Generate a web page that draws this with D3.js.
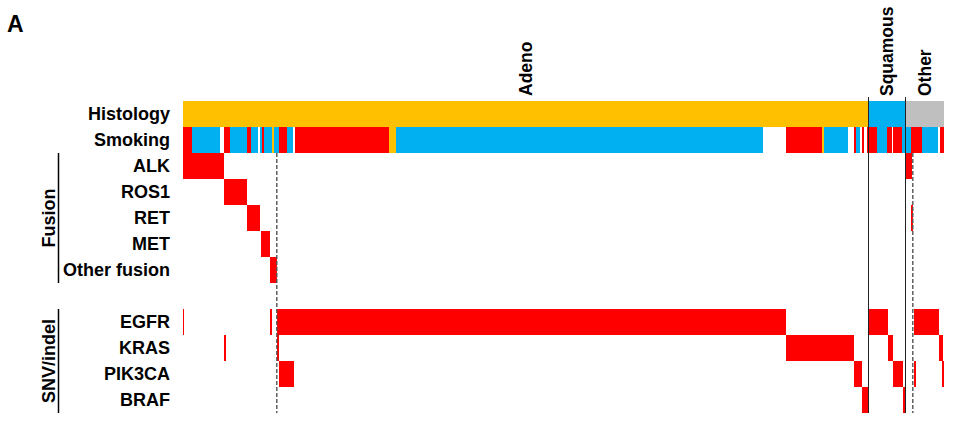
<!DOCTYPE html>
<html><head><meta charset="utf-8">
<script src="https://cdn.jsdelivr.net/npm/d3@7"></script>
<style>body{margin:0;background:#fff}svg{display:block}text{font-family:"Liberation Sans",Arial,sans-serif;font-weight:bold;fill:#000}</style>
</head><body><svg id="c" width="960" height="424"></svg>
<script>
// sample order axis: 0..380.5 patients (sorted)
const totalSamples = 380.5;
const rows = ["Histology","Smoking","ALK","ROS1","RET","MET","Other fusion","","EGFR","KRAS","PIK3CA","BRAF"];
const histology = [
  {name:"Adeno", start:0, end:342.5, type:"adeno"},
  {name:"Squamous", start:342.5, end:361, type:"squamous"},
  {name:"Other", start:361, end:380.5, type:"other"}
];
// smoking: [start, end, status]
const smoking = [
  [0,4.4,"smoker"],[4.4,18.5,"never"],[20.7,23.5,"smoker"],[23.5,31.9,"never"],[31.9,34,"smoker"],
  [34,37.7,"never"],[38.5,39.4,"never"],[39.4,40.5,"smoker"],[40.5,44.4,"never"],[44.4,45.4,"unknown"],
  [45.4,48.2,"never"],[48.2,52.2,"smoker"],[52.2,54.9,"never"],[56,103.2,"smoker"],[103.2,106.4,"unknown"],
  [106.4,290.2,"never"],[301.5,319.4,"smoker"],[319.4,320.7,"unknown"],[320.7,332.7,"never"],
  [335.5,336.4,"smoker"],[336.4,338.5,"never"],[339.5,340.7,"smoker"],[341.9,346.9,"smoker"],
  [346.9,352.2,"never"],[352.2,354.4,"smoker"],[355.2,359.4,"smoker"],[359.4,364,"never"],
  [364,369.4,"smoker"],[369.4,377.7,"never"],[378.5,380.5,"smoker"]
];
const ALK = [[0,20.7],[361.3,364.4]];
const ROS1 = [[20.7,31.9]];
const RET = [[31.9,38.5],[363.9,364.9]];
const MET = [[39.2,43.5]];
const otherFusion = [[43.5,46.9]];
const EGFR = [[0,0.5],[43.7,44.4],[46.9,301.5],[343.2,352.4],[365.7,378.2]];
const KRAS = [[20.7,21.2],[46.9,48],[301.5,335.7],[352.4,355.2],[378.2,379.9]];
const PIK3CA = [[48.2,55.7],[335.7,339.4],[342.4,342.7],[355.2,360.2],[365.3,366.4],[379.6,380.3]];
const BRAF = [[339.4,342.4],[360.2,361.3]];
const dashedAt = [46.9, 364.9];
const groups = [{name:"Fusion", first:"ALK", last:"Other fusion"},{name:"SNV/indel", first:"EGFR", last:"BRAF"}];

const colors = {adeno:"#FFC000", squamous:"#00B0F0", other:"#BFBFBF", smoker:"#FF0000", never:"#00B0F0", unknown:"#FFC000", mut:"#FF0000"};

const svg = d3.select("#c");
const x = d3.scaleLinear().domain([0,totalSamples]).range([183,944]);
const y = d3.scaleBand().domain(rows).range([101,413]).padding(0);

const rect = (g, data, row, colorFn) => g.selectAll(null).data(data).enter().append("rect")
  .attr("x", d => x(d[0]))
  .attr("width", d => Math.max(1.2, x(d[1]) - x(d[0])))
  .attr("y", y(row)).attr("height", y.bandwidth())
  .attr("fill", colorFn).attr("shape-rendering","crispEdges");

const g = svg.append("g");
g.selectAll(null).data(histology).enter().append("rect")
  .attr("x", d => x(d.start)).attr("width", d => x(d.end)-x(d.start))
  .attr("y", y("Histology")).attr("height", y.bandwidth())
  .attr("fill", d => colors[d.type]).attr("shape-rendering","crispEdges");
rect(g, smoking, "Smoking", d => colors[d[2]]);
const genes = {"ALK":ALK,"ROS1":ROS1,"RET":RET,"MET":MET,"Other fusion":otherFusion,"EGFR":EGFR,"KRAS":KRAS,"PIK3CA":PIK3CA,"BRAF":BRAF};
Object.entries(genes).forEach(([k,v]) => rect(g, v, k, colors.mut));

// dashed lines
svg.selectAll(null).data(dashedAt).enter().append("line")
  .attr("x1", d => x(d)).attr("x2", d => x(d))
  .attr("y1", y("ALK")).attr("y2", y("BRAF")+y.bandwidth())
  .attr("stroke","#555").attr("stroke-width",1.4).attr("stroke-dasharray","4,2");
// histology boundaries
svg.selectAll(null).data(histology.slice(1)).enter().append("line")
  .attr("x1", d => x(d.start)+0.5).attr("x2", d => x(d.start)+0.5)
  .attr("y1", 97).attr("y2", y("BRAF")+y.bandwidth())
  .attr("stroke","#222").attr("stroke-width",1);

// histology labels (rotated)
svg.selectAll(null).data(histology).enter().append("text")
  .attr("transform", d => `translate(${(x(d.start)+x(d.end))/2+6},96) rotate(-90)`)
  .attr("font-size", 17.5).text(d => d.name);

// row labels
svg.selectAll(null).data(rows.filter(r => r)).enter().append("text")
  .attr("x", 170).attr("y", d => y(d)+y.bandwidth()/2).attr("dy","0.36em")
  .attr("text-anchor","end").attr("font-size",18).text(d => d);

// group labels
groups.forEach(gr => {
  const y0 = y(gr.first), y1 = y(gr.last)+y.bandwidth();
  svg.append("line").attr("x1",58.5).attr("x2",58.5).attr("y1",y0).attr("y2",y1).attr("stroke","#000").attr("stroke-width",1.5);
  svg.append("text").attr("transform",`translate(55,${(y0+y1)/2}) rotate(-90)`)
    .attr("text-anchor","middle").attr("font-size",18).text(gr.name);
});

svg.append("text").attr("x",7).attr("y",32).attr("font-size",23).text("A");
</script></body></html>
